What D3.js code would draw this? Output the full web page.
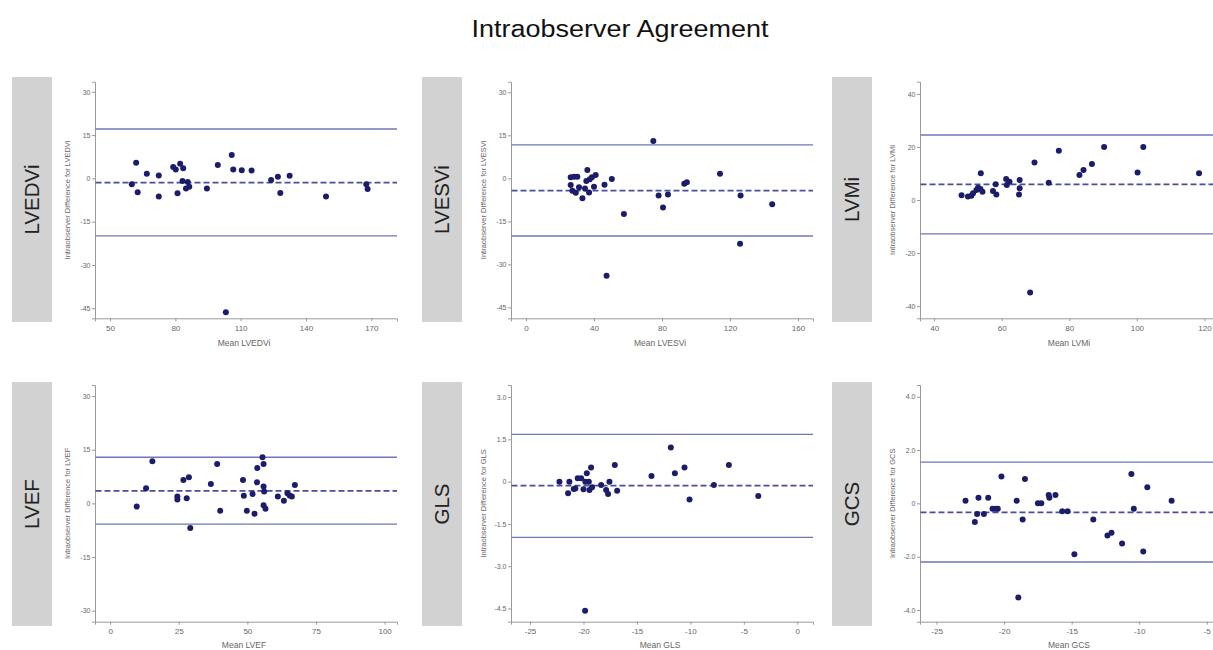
<!DOCTYPE html>
<html>
<head>
<meta charset="utf-8">
<script src="https://cdn.jsdelivr.net/npm/d3@7"></script>
<style>
  body { margin: 0; background: #fff; }
  svg { display: block; font-family: "Liberation Sans", Arial, sans-serif; }
</style>
</head>
<body>
<svg id="chart" width="1213" height="650"></svg>
<script>
// ---- Bland-Altman data: mean of the two readings (x) and their difference (y) ----
const lvedviMean = [60.0, 62.0, 62.7, 66.9, 72.4, 72.4, 79.0, 80.2, 81.0, 82.2, 83.6, 83.3, 84.9, 85.7, 86.4, 94.5, 99.5, 105.9, 106.6, 103.2, 110.5, 115.0, 124.0, 127.1, 128.2, 132.5, 149.2, 167.7, 168.3];
const lvedviDiff = [-2.0, 5.4, -4.8, 1.6, 1.0, -6.3, 3.9, 3.1, -5.2, 5.1, 3.5, -0.9, -3.5, -1.3, -2.9, -3.5, 4.6, 8.1, 3.1, -46.4, 2.8, 2.7, -0.6, 0.6, -5.1, 0.9, -6.3, -2.0, -3.7];
const lvedviLimits = [17.1, -1.5, -19.9];   // upper limit, bias, lower limit

const lvesviMean = [26.3, 28.3, 30.2, 26.3, 27.3, 29.3, 31.2, 33.2, 34.7, 35.5, 36.1, 37.5, 37.1, 38.8, 40.0, 41.0, 46.2, 50.5, 57.6, 47.4, 74.9, 78.0, 80.6, 83.5, 93.1, 94.6, 114.1, 126.2, 125.9, 144.8];
const lvesviDiff = [0.4, 0.6, 0.6, -2.3, -4.3, -5.0, -3.1, -6.9, -3.5, -0.9, 2.9, -0.3, -4.9, 0.4, -2.9, 1.2, -2.2, -0.2, -12.4, -34.0, 13.0, -6.0, -10.2, -5.6, -1.9, -1.4, 1.6, -6.0, -22.8, -9.0];
const lvesviLimits = [11.7, -4.3, -20.1];

const lvmiMean = [48.1, 50.0, 51.0, 51.5, 52.5, 53.0, 53.7, 53.8, 54.3, 57.4, 58.4, 58.2, 61.3, 61.5, 62.3, 65.3, 65.3, 65.1, 69.7, 73.9, 76.9, 68.4, 83.0, 84.2, 86.7, 90.3, 100.2, 101.9, 118.4];
const lvmiDiff = [1.8, 1.3, 1.6, 2.5, 3.8, 4.6, 4.1, 10.1, 3.1, 3.4, 2.1, 5.9, 7.9, 5.7, 6.9, 7.5, 4.4, 2.1, 14.1, 6.5, 18.6, -34.9, 9.4, 11.3, 13.6, 20.0, 10.4, 20.0, 10.1];
const lvmiLimits = [24.5, 5.9, -12.8];

const lvefMean = [9.7, 13.1, 15.4, 24.5, 24.5, 26.7, 27.9, 28.7, 29.2, 36.7, 39.0, 40.1, 48.4, 48.7, 49.8, 51.9, 52.6, 53.5, 53.6, 55.5, 55.9, 55.9, 56.1, 55.9, 56.6, 61.1, 63.3, 64.6, 65.4, 66.2, 67.3];
const lvefDiff = [-0.9, 4.2, 11.8, 1.9, 1.1, 6.5, 1.4, 7.3, -6.9, 5.4, 11.0, -2.1, 6.5, 2.1, -2.1, 2.6, -2.9, 5.9, 9.9, 12.9, 11.0, 4.7, 3.3, -0.5, -1.5, 1.9, 0.7, 2.8, 2.2, 1.9, 5.1];
const lvefLimits = [12.9, 3.5, -5.8];

const glsMean = [-22.25, -21.44, -21.32, -20.91, -20.76, -20.54, -20.22, -20.0, -19.82, -19.69, -19.5, -19.44, -19.29, -19.2, -19.85, -18.35, -17.88, -17.7, -17.57, -17.07, -16.85, -13.64, -11.83, -11.45, -10.55, -10.08, -7.8, -6.4, -3.65];
const glsDiff = [0.0, -0.41, 0.0, -0.26, -0.24, 0.12, 0.12, -0.27, 0.0, 0.3, 0.0, -0.3, 0.5, -0.2, -4.58, -0.12, -0.3, -0.44, 0.0, 0.59, -0.32, 0.2, 1.21, 0.3, 0.5, -0.63, -0.12, 0.59, -0.51];
const glsLimits = [1.68, -0.14, -1.98];

const gcsMean = [-22.86, -22.17, -22.0, -21.9, -21.5, -21.18, -20.86, -20.64, -20.47, -20.2, -19.07, -18.95, -18.63, -18.46, -17.5, -17.25, -16.7, -16.65, -16.2, -15.7, -15.3, -14.8, -13.4, -12.35, -12.05, -11.27, -10.58, -10.4, -9.7, -9.4, -7.6];
const gcsDiff = [0.1, -0.7, -0.4, 0.21, -0.4, 0.21, -0.2, -0.2, -0.2, 1.01, 0.1, -3.53, -0.61, 0.91, 0.0, 0.0, 0.31, 0.21, 0.31, -0.3, -0.3, -1.91, -0.61, -1.21, -1.1, -1.51, 1.1, -0.2, -1.81, 0.6, 0.1];
const gcsLimits = [1.55, -0.34, -2.2];

// ---- axis ticks ----
const lvedviXTicks = [50, 80, 110, 140, 170];
const lvedviYTicks = [30, 15, 0, -15, -30, -45];
const lvesviXTicks = [0, 40, 80, 120, 160];
const lvesviYTicks = [30, 15, 0, -15, -30, -45];
const lvmiXTicks = [40, 60, 80, 100, 120];
const lvmiYTicks = [40, 20, 0, -20, -40];
const lvefXTicks = [0, 25, 50, 75, 100];
const lvefYTicks = [30, 15, 0, -15, -30];
const glsXTicks = [-25, -20, -15, -10, -5, 0];
const glsYTicks = [3.0, 1.5, 0, -1.5, -3.0, -4.5];
const glsYLabels = ["3.0", "1.5", "0", "-1.5", "-3.0", "-4.5"];
const gcsXTicks = [-25, -20, -15, -10, -5];
const gcsYTicks = [4.0, 2.0, 0, -2.0, -4.0];
const gcsYLabels = ["4.0", "2.0", "0", "-2.0", "-4.0"];

const measures = ["LVEDVi", "LVESVi", "LVMi", "LVEF", "GLS", "GCS"];

// ---- panel set-up ----
const panels = [
  { name: measures[0], x: lvedviMean, y: lvedviDiff, lim: lvedviLimits, xt: lvedviXTicks, yt: lvedviYTicks, xd: [43.1, 181.8], yd: [-48.5, 33.5], row: 0, col: 0 },
  { name: measures[1], x: lvesviMean, y: lvesviDiff, lim: lvesviLimits, xt: lvesviXTicks, yt: lvesviYTicks, xd: [-8.8, 168.8], yd: [-48.8, 33.7], row: 0, col: 1 },
  { name: measures[2], x: lvmiMean, y: lvmiDiff, lim: lvmiLimits, xt: lvmiXTicks, yt: lvmiYTicks, xd: [35.8, 125.2], yd: [-44.6, 44.6], row: 0, col: 2 },
  { name: measures[3], x: lvefMean, y: lvefDiff, lim: lvefLimits, xt: lvefXTicks, yt: lvefYTicks, xd: [-5.5, 104.5], yd: [-33.1, 33.1], row: 1, col: 0 },
  { name: measures[4], x: glsMean, y: glsDiff, lim: glsLimits, xt: glsXTicks, yt: glsYTicks, yl: glsYLabels, xd: [-26.78, 1.47], yd: [-4.97, 3.43], row: 1, col: 1 },
  { name: measures[5], x: gcsMean, y: gcsDiff, lim: gcsLimits, xt: gcsXTicks, yt: gcsYTicks, yl: gcsYLabels, xd: [-26.23, -3.87], yd: [-4.44, 4.44], row: 1, col: 2 }
];

const colLeft = [95, 511, 920];
const plotW = 302;
const boxX = [12, 422, 832];
const boxW = 40;
const rowTop = [81.7, 385];
const rowBottom = [318.3, 621.7];
const boxY = [77, 382];
const boxH = [245, 244];

const svg = d3.select("#chart");

svg.append("text")
  .attr("x", 620).attr("y", 36.5)
  .attr("text-anchor", "middle")
  .attr("font-size", 23)
  .attr("fill", "#111")
  .attr("textLength", 297)
  .attr("lengthAdjust", "spacingAndGlyphs")
  .text("Intraobserver Agreement");

const dotColor = "#1b1d6b";
const limitColor = "#7074bb";
const biasColor = "#4a4e9e";
const axisColor = "#9a9a9a";
const tickText = "#666";
const plain = d => String(d);   // hyphen-minus, as the original software prints it

panels.forEach(p => {
  const left = colLeft[p.col], right = left + plotW;
  const top = rowTop[p.row], bottom = rowBottom[p.row];
  const g = svg.append("g");

  // grey strip with the measure name
  g.append("rect")
    .attr("x", boxX[p.col]).attr("y", boxY[p.row])
    .attr("width", boxW).attr("height", boxH[p.row])
    .attr("fill", "#d2d2d2");
  const cx = boxX[p.col] + boxW / 2, cy = boxY[p.row] + boxH[p.row] / 2;
  g.append("text")
    .attr("transform", `translate(${cx + 7},${cy}) rotate(-90)`)
    .attr("text-anchor", "middle")
    .attr("font-size", 20.5)
    .attr("fill", "#222")
    .text(p.name);

  const xs = d3.scaleLinear().domain(p.xd).range([left, right]);
  const ys = d3.scaleLinear().domain(p.yd).range([bottom, top]);

  // axes
  const yAxis = d3.axisLeft(ys).tickValues(p.yt).tickSize(3).tickPadding(1.5)
    .tickFormat((d, i) => p.yl ? p.yl[i] : plain(d));
  const xAxis = d3.axisBottom(xs).tickValues(p.xt).tickSize(3).tickPadding(4)
    .tickFormat(plain);

  const ya = g.append("g").attr("transform", `translate(${left},0)`).call(yAxis);
  const xa = g.append("g").attr("transform", `translate(0,${bottom})`).call(xAxis);
  [ya, xa].forEach(a => {
    a.select(".domain").attr("stroke", axisColor).attr("stroke-width", 1);
    a.selectAll(".tick line").attr("stroke", axisColor);
    a.selectAll(".tick text").attr("fill", tickText).attr("font-family", "Liberation Sans, Arial, sans-serif");
  });
  ya.selectAll(".tick text").attr("font-size", 7);
  xa.selectAll(".tick text").attr("font-size", 8);

  // axis titles
  g.append("text")
    .attr("transform", `translate(${left - 25},${(top + bottom) / 2}) rotate(-90)`)
    .attr("text-anchor", "middle")
    .attr("font-size", 7.5)
    .attr("fill", tickText)
    .text("Intraobserver Difference for " + p.name);
  g.append("text")
    .attr("x", (left + right) / 2 - 2).attr("y", bottom + (p.row === 0 ? 27.5 : 26.5))
    .attr("text-anchor", "middle")
    .attr("font-size", 8.5)
    .attr("fill", tickText)
    .text("Mean " + p.name);

  // limits of agreement and mean bias
  g.selectAll("line.lim")
    .data([p.lim[0], p.lim[2]])
    .join("line")
    .attr("class", "lim")
    .attr("x1", left + 0.5).attr("x2", right)
    .attr("y1", d => ys(d)).attr("y2", d => ys(d))
    .attr("stroke", limitColor).attr("stroke-width", 1.3);
  g.append("line")
    .attr("x1", left + 0.5).attr("x2", right)
    .attr("y1", ys(p.lim[1])).attr("y2", ys(p.lim[1]))
    .attr("stroke", biasColor).attr("stroke-width", 1.7)
    .attr("stroke-dasharray", "6,3");

  // points
  g.selectAll("circle")
    .data(p.x.map((v, i) => [v, p.y[i]]))
    .join("circle")
    .attr("cx", d => xs(d[0])).attr("cy", d => ys(d[1]))
    .attr("r", 3)
    .attr("fill", dotColor);
});
</script>
</body>
</html>
